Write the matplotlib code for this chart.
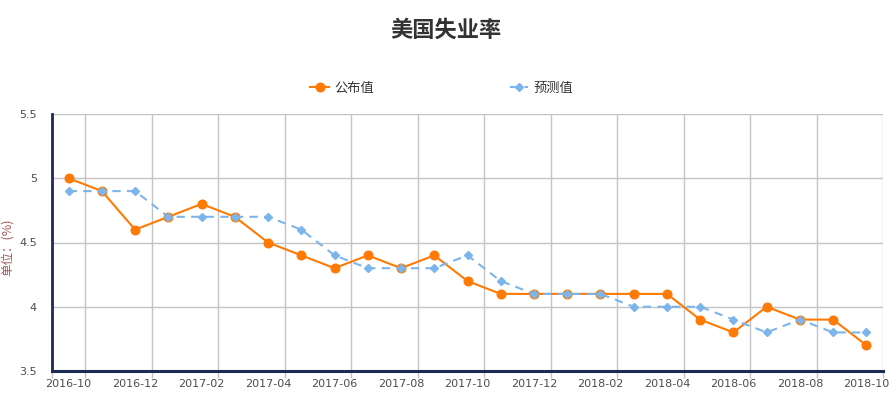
"""
美国失业率: 公布值 vs 预测值, monthly 2016-10 .. 2018-10.
"""

import matplotlib
matplotlib.use("Agg")
import matplotlib.pyplot as plt
import numpy as np

plt.rcParams["font.family"] = ["Noto Sans CJK SC", "DejaVu Sans"]

# ── data ────────────────────────────────────────────────────────────
MONTHS = [
    "2016-10", "2016-11", "2016-12", "2017-01", "2017-02", "2017-03",
    "2017-04", "2017-05", "2017-06", "2017-07", "2017-08", "2017-09",
    "2017-10", "2017-11", "2017-12", "2018-01", "2018-02", "2018-03",
    "2018-04", "2018-05", "2018-06", "2018-07", "2018-08", "2018-09",
    "2018-10",
]
ACTUAL = [5.0, 4.9, 4.6, 4.7, 4.8, 4.7, 4.5, 4.4, 4.3, 4.4, 4.3, 4.4, 4.2,
          4.1, 4.1, 4.1, 4.1, 4.1, 4.1, 3.9, 3.8, 4.0, 3.9, 3.9, 3.7]
FORECAST = [4.9, 4.9, 4.9, 4.7, 4.7, 4.7, 4.7, 4.6, 4.4, 4.3, 4.3, 4.3, 4.4,
            4.2, 4.1, 4.1, 4.1, 4.0, 4.0, 4.0, 3.9, 3.8, 3.9, 3.8, 3.8]
Y_TICKS = [3.5, 4, 4.5, 5, 5.5]
Y_TICK_LABELS = ["3.5", "4", "4.5", "5", "5.5"]

# ── style ───────────────────────────────────────────────────────────
ORANGE = "#ff7a05"
BLUE = "#7cb5ec"
AXIS = "#1c2a55"
GRID = "#c4c4c4"
TEXT = "#333333"
TICK_TEXT = "#4d4d4d"

fig = plt.figure(figsize=(8.96, 3.97), dpi=100)
ax = fig.add_axes([52 / 896, 26 / 397, 831 / 896, 257 / 397])

x = np.arange(len(MONTHS))
ax.plot(x, ACTUAL, color=ORANGE, lw=1.5, marker="o", ms=6.2,
        label="公布值", zorder=3)
ax.plot(x, FORECAST, color=BLUE, lw=1.5, ls=(0, (4, 3)), marker="D", ms=4.3,
        label="预测值", zorder=4)

ax.set_xlim(-0.5, len(MONTHS) - 0.5)
ax.set_ylim(3.5, 5.5)

# labels on every other month, grid at the band edges after them
ax.set_xticks(x[::2])
ax.set_xticklabels(MONTHS[::2], fontsize=8, color=TICK_TEXT, family="DejaVu Sans")
ax.tick_params(axis="x", which="major", length=0, pad=6)
edges = [-0.5] + list(np.arange(0.5, len(MONTHS), 2))
ax.set_xticks(edges, minor=True)
ax.tick_params(axis="x", which="minor", length=5, color=GRID, width=1)
ax.grid(axis="x", which="minor", color=GRID, lw=1)

ax.set_yticks(Y_TICKS)
ax.set_yticklabels(Y_TICK_LABELS, fontsize=8, color=TICK_TEXT, family="DejaVu Sans")
ax.tick_params(axis="y", length=0, pad=11)
ax.grid(axis="y", color=GRID, lw=1)
ax.set_axisbelow(True)

for side in ("top", "right"):
    ax.spines[side].set_visible(False)
ax.spines["left"].set_color(AXIS)
ax.spines["left"].set_linewidth(2)
ax.spines["bottom"].set_color(AXIS)
ax.spines["bottom"].set_linewidth(2.2)
ax.spines["bottom"].set_zorder(5)

ax.set_ylabel("单位：(%)", fontsize=9, color="#a45a5a")
ax.yaxis.set_label_coords(-0.046, 0.48)

fig.text(0.498, 0.925, "美国失业率", ha="center", va="center",
         fontsize=16, fontweight="bold", color=TEXT)

fig.legend(loc="center", bbox_to_anchor=(0.493, 0.778), ncol=2,
           frameon=False, handlelength=1.4, handletextpad=0.4,
           columnspacing=10.3, labelcolor=TEXT,
           prop={"size": 9.5, "weight": "medium"})

fig.savefig("out.png", dpi=100)
